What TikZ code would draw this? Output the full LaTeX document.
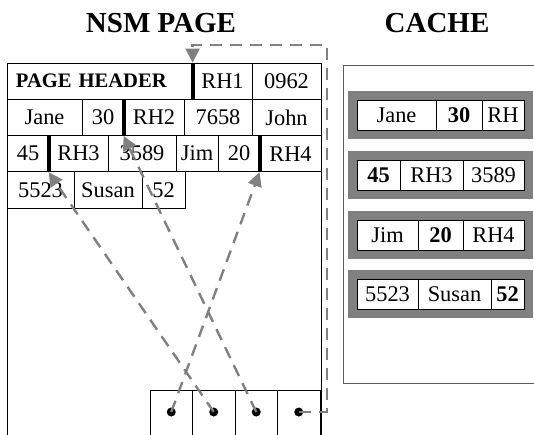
\documentclass[tikz,border=0pt]{standalone}
\usepackage{fontspec}
\setmainfont{Liberation Serif}
\usetikzlibrary{arrows.meta}
\definecolor{ptrgray}{RGB}{128,128,128}
\definecolor{boxgray}{RGB}{90,90,90}

\begin{document}
\begin{tikzpicture}[x=0.5pt,y=-0.5pt,
    cell/.style={draw,inner sep=0pt,minimum height=18.125pt,font=\fontsize{11.2}{13}\selectfont},
    ccell/.style={cell,fill=white,minimum height=15pt},
    bar/.style={line width=2pt},
    ptr/.style={draw=ptrgray,line width=1.2pt,dash pattern=on 6pt off 4pt,
        -{Triangle[length=7pt,width=7pt,fill=ptrgray]}},
    slot/.style={draw,inner sep=0pt,minimum width=21.25pt,minimum height=30pt},
    dot/.style={circle,fill,inner sep=0pt,minimum size=4.5pt},
    title/.style={anchor=base,font=\fontsize{14.5}{16}\selectfont\bfseries}]
    \useasboundingbox (0,0) rectangle (534,434);
    \clip (0,0) rectangle (534,434);
    % titles
    \node[title] (nsm) at (161,32) {NSM PAGE};
    \node[title] (cache) at (437,32) {CACHE};
    % nsm page
    \draw (7,63) rectangle (321,470);
    \node[cell,text width=84pt,inner xsep=4.5pt,align=left,font=\fontsize{10.3}{12}\selectfont\bfseries]
        (hdr) at (100,81.125) {PAGE HEADER};
    \foreach \a/\b/\y/\t/\n in {
        193/252/81.125/RH1/rh1, 252/321/81.125/0962/c0962,
        7/82/117.375/Jane/jane, 82/124/117.375/30/c30, 124/184/117.375/RH2/rh2,
        184/252/117.375/7658/c7658, 252/321/117.375/John/john,
        7/49/153.625/45/c45, 49/108/153.625/RH3/rh3, 108/176/153.625/3589/c3589,
        176/218/153.625/Jim/jim, 218/260/153.625/20/c20, 260/321/153.625/RH4/rh4,
        7/74/189.875/5523/c5523, 74/142/189.875/Susan/susan, 142/185/189.875/52/c52}
        \node[cell,minimum width={(\b-\a)*0.5pt}] (\n) at ({(\a+\b)/2},\y) {\t};
    \draw[bar] (hdr.north east) -- (hdr.south east);
    \draw[bar] (c30.north east) -- (c30.south east);
    \draw[bar] (c45.north east) -- (c45.south east);
    \draw[bar] (c20.north east) -- (c20.south east);
    % slot array
    \foreach \x/\n in {171.25/1,213.75/2,256.25/3,298.75/4}{
        \node[slot] (s\n) at (\x,420) {};
        \node[dot] (d\n) at (\x,412) {};
    }
    \draw[ptr] (d1.center) -- (rh4.south west);
    \draw[ptr] (d2.center) -- (rh3.south west);
    \draw[ptr] (d3.center) -- (rh2.south west);
    \coordinate (loop) at (327,45);
    \draw[ptr] (d4.center) -| (loop) -| (rh1.north west);
    % cache
    \draw[boxgray] (343,65) rectangle (560,383);
    \foreach \t in {91,151,211,270}
        \fill[ptrgray] (348,\t) rectangle (533,\t+48);
    \foreach \a/\b/\y/\t/\n in {
        357/436/115/Jane/k1a, 436/482/115/\textbf{30}/k1b, 482/524/115/RH/k1c,
        357/400/175/\textbf{45}/k2a, 400/463/175/RH3/k2b, 463/524/175/3589/k2c,
        357/418/235/Jim/k3a, 418/463/235/\textbf{20}/k3b, 463/524/235/RH4/k3c,
        357/418/294/5523/k4a, 418/491/294/Susan/k4b, 491/524/294/\textbf{52}/k4c}
        \node[ccell,minimum width={(\b-\a)*0.5pt}] (\n) at ({(\a+\b)/2},\y) {\t};
\end{tikzpicture}
\end{document}
